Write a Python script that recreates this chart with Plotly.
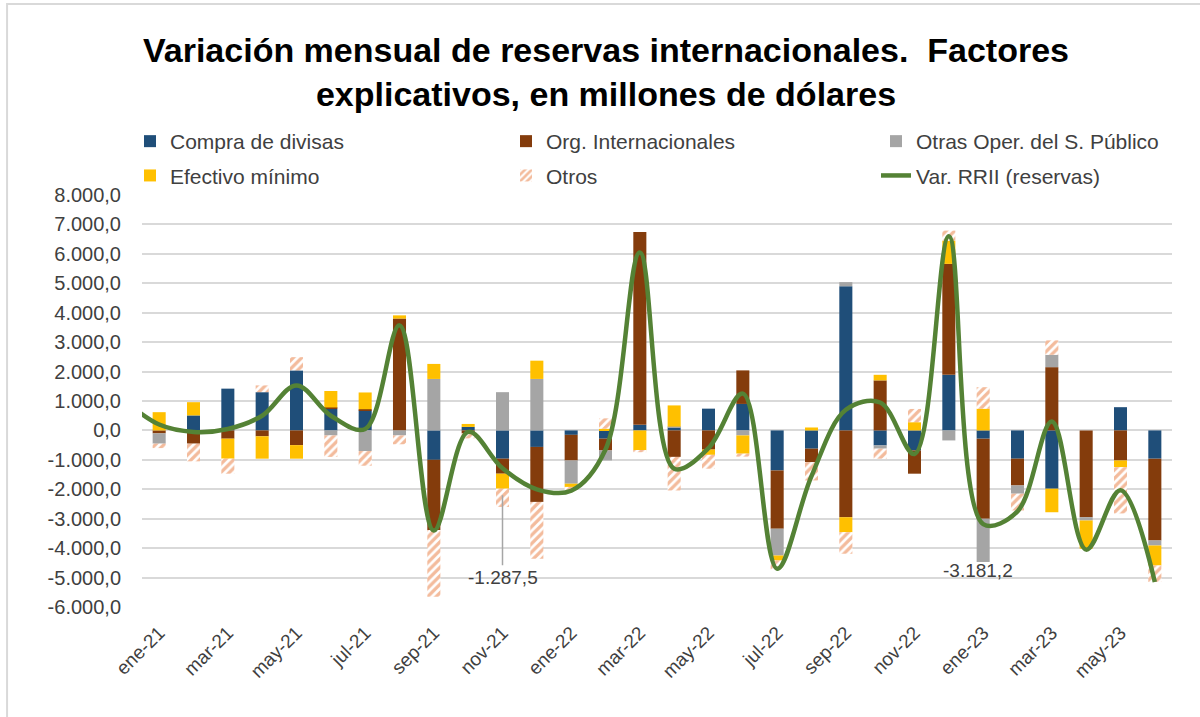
import plotly.graph_objects as go

months = ["ene-21", "feb-21", "mar-21", "abr-21", "may-21", "jun-21", "jul-21", "ago-21",
          "sep-21", "oct-21", "nov-21", "dic-21", "ene-22", "feb-22", "mar-22", "abr-22",
          "may-22", "jun-22", "jul-22", "ago-22", "sep-22", "oct-22", "nov-22", "dic-22",
          "ene-23", "feb-23", "mar-23", "abr-23", "may-23", "jun-23"]

compra    = [0, 510, 1420, 1300, 2040, 740, 680, 0, -1000, 120, -960, -560, -150, -280, 190, 100,
             740, 900, -1360, -620, 4900, -510, -680, 1890, -280, -960, -1980, 0, 790, -960]
org_int   = [-100, -450, -280, -200, -500, 40, 40, 3800, -2380, -100, -510, -1870, -870, -400, 6550, -900,
             -650, 1140, -1980, -460, -2950, 1700, -790, 3770, -2720, -910, 2150, -2950, -1020, -2780]
otras_sp  = [-350, 0, 0, 0, 0, -170, -700, -170, 1750, 0, 1300, 1750, -790, -340, 0, 30,
             0, -170, -910, 0, 140, -110, 0, -340, -1470, -280, 420, -110, 0, -170]
efectivo  = [620, 450, -680, -760, -460, 560, 570, 110, 510, 100, -510, 620, -110, 60, -680, 720,
             -180, -620, -170, 100, -510, 190, 280, 790, 740, 0, -800, -960, -230, -680]
otros     = [-150, -600, -510, 230, 450, -730, -500, -300, -2270, -170, -620, -1930, -100, 350, -60, -1140,
             -470, -100, -300, -620, -730, -340, 450, 340, 730, -570, 490, 0, -1570, -560]

line_months = ["dic-20"] + months
var_rrii  = [1000, 200, -50, 50, 500, 1530, 500, 50, 3570, -3400, -50, -1287.5, -2000, -2050, -650, 6050,
             -1300, -600, 1250, -4700, -1550, 700, 950, -800, 6600, -3181.2, -2750, 300, -4050, -2030, -5150]

tick_labels = months[::2]
y_ticks = list(range(-6000, 8001, 1000))


def fmt_es(v):
    s = f"{abs(v):,.1f}".replace(",", "X").replace(".", ",").replace("X", ".")
    return ("-" if v < 0 else "") + s


y_tick_text = [fmt_es(v) for v in y_ticks]

labels = {
    "compra": "Compra de divisas",
    "org": "Org. Internacionales",
    "otras": "Otras Oper. del S. Público",
    "efectivo": "Efectivo mínimo",
    "otros": "Otros",
    "var": "Var. RRII (reservas)",
}

FONT = "Liberation Sans, Arial, sans-serif"
TXT = "#404040"

x_bars = list(range(len(months)))
x_line = [i - 1 for i in range(len(line_months))]

fig = go.Figure()


def add_bar(vals, name, color, legend, group, pattern=None):
    marker = dict(color=color, line=dict(width=0))
    if pattern:
        marker = dict(color="white", line=dict(width=0),
                      pattern=dict(shape="/", fgcolor=color, bgcolor="white",
                                   size=6, solidity=0.55, fillmode="overlay"))
    fig.add_trace(go.Bar(x=x_bars, y=vals, name=name, marker=marker, width=0.38,
                         legend=legend, legendgroup=group, customdata=months,
                         hovertemplate="%{customdata}: %{y:,.1f}<extra>" + name + "</extra>"))


add_bar(compra, labels["compra"], "#1F4E79", "legend", "a")
add_bar(org_int, labels["org"], "#843C0C", "legend2", "b")
add_bar(otras_sp, labels["otras"], "#A5A5A5", "legend3", "c")
add_bar(efectivo, labels["efectivo"], "#FFC000", "legend", "d")
add_bar(otros, labels["otros"], "#E8783A", "legend2", "e", pattern=True)

fig.add_trace(go.Scatter(x=x_line, y=var_rrii, name=labels["var"], mode="lines",
                         line=dict(color="#548235", width=4.5, shape="spline", smoothing=1.0),
                         legend="legend3", legendgroup="f", customdata=line_months,
                         hovertemplate="%{customdata}: %{y:,.1f}<extra></extra>"))

# data labels of the line
idx_nov21 = line_months.index("nov-21")
idx_ene23 = line_months.index("ene-23")
fig.add_annotation(x=x_line[idx_nov21], y=var_rrii[idx_nov21], text=fmt_es(var_rrii[idx_nov21]),
                   showarrow=True, arrowhead=0, arrowwidth=1.5, arrowcolor="#A6A6A6",
                   ax=0, ay=109, standoff=27, font=dict(family=FONT, size=19, color=TXT))
fig.add_annotation(x=x_line[idx_ene23], y=var_rrii[idx_ene23], text=fmt_es(var_rrii[idx_ene23]),
                   showarrow=False, yshift=-46, xshift=-5,
                   font=dict(family=FONT, size=19, color=TXT))

# outer frame
fig.add_shape(type="rect", xref="paper", yref="paper", x0=-0.131, x1=1.2, y0=-0.6, y1=1.4636,
              line=dict(color="#D9D9D9", width=2), fillcolor="rgba(0,0,0,0)", layer="below")

legend_common = dict(orientation="v", xref="container", yref="container", yanchor="top",
                     xanchor="left", font=dict(family=FONT, size=21, color=TXT),
                     bgcolor="rgba(0,0,0,0)", tracegroupgap=4, itemclick=False)

fig.update_layout(
    width=1200, height=717,
    margin=dict(l=142, r=28, t=195, b=110, autoexpand=False),
    paper_bgcolor="white", plot_bgcolor="white",
    barmode="relative",
    title=dict(text="<b>Variación mensual de reservas internacionales.  Factores<br>explicativos, en millones de dólares</b>",
               x=0.505, xanchor="center", xref="container", y=1 - 62 / 717, yanchor="top", yref="container",
               font=dict(family="Liberation Sans Narrow, Arial Narrow, Liberation Sans, sans-serif", size=34, color="black")),
    legend=dict(x=130 / 1200, y=1 - 121 / 717, **legend_common),
    legend2=dict(x=506 / 1200, y=1 - 121 / 717, **legend_common),
    legend3=dict(x=876 / 1200, y=1 - 121 / 717, **legend_common),
    xaxis=dict(range=[-0.5, len(months) - 0.5], tickmode="array", tickvals=x_bars[::2],
               ticktext=tick_labels, tickangle=-45, showgrid=False, zeroline=False,
               showline=False, ticks="", ticklabelstandoff=10,
               tickfont=dict(family=FONT, size=19, color=TXT)),
    yaxis=dict(range=[-6000, 8000], tickmode="array", tickvals=y_ticks, ticktext=y_tick_text,
               showgrid=True, gridcolor="#D9D9D9", gridwidth=2, zeroline=True, zerolinecolor="#D9D9D9",
               zerolinewidth=2, showline=False, ticks="", ticklabelstandoff=20,
               tickfont=dict(family=FONT, size=20, color=TXT)),
    hovermode="closest",
)

fig.write_html("out.html", config={"displayModeBar": False},
               post_script="document.body.style.margin='0';")
